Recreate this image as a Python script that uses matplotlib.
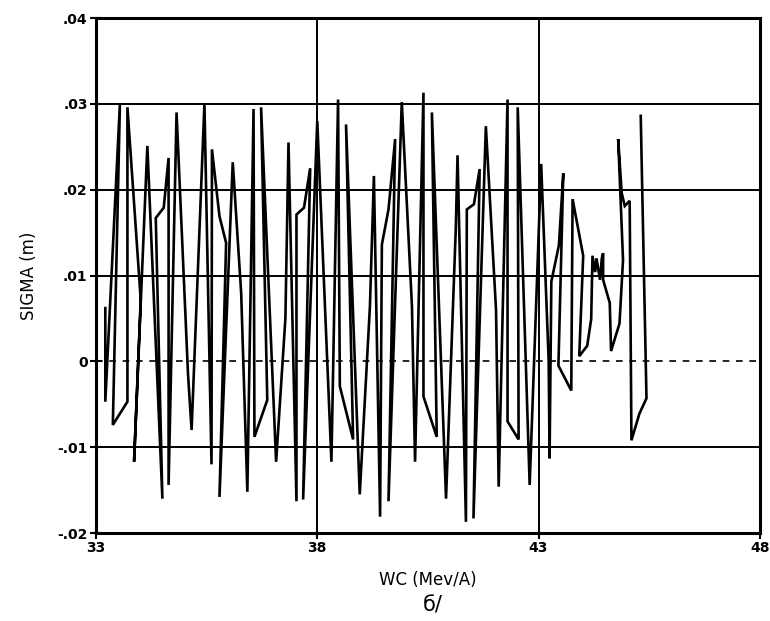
import matplotlib
matplotlib.use("Agg")
import matplotlib.pyplot as plt

# WC (Mev/A) and SIGMA (m), in drawing order
wc = [
    33.21, 33.21, 33.54, 33.38, 33.71, 33.71, 34.01, 33.86, 34.16, 34.50, 34.35, 34.53, 34.64, 34.64, 34.82,
    35.08, 35.16, 35.45, 35.61, 35.62, 35.79, 35.94, 35.79, 36.09, 36.28, 36.42, 36.56, 36.58, 36.87, 36.73,
    37.07, 37.28, 37.35, 37.53, 37.53, 37.70, 37.84, 37.68, 38.00, 38.32, 38.47, 38.51, 38.81, 38.65,
    38.96, 39.19, 39.28, 39.42, 39.46, 39.61, 39.76, 39.61, 39.91, 40.14, 40.21, 40.40, 40.40, 40.70, 40.59,
    40.91, 41.13, 41.17, 41.36, 41.38, 41.54, 41.67, 41.53, 41.81, 42.04, 42.10, 42.30, 42.30, 42.55, 42.53,
    42.80, 43.06, 43.23, 43.25, 43.29, 43.46, 43.56, 43.45, 43.74, 43.77, 44.01, 43.92, 44.10,
    44.19, 44.22, 44.28, 44.31, 44.39, 44.43, 44.46, 44.46, 44.61, 44.64, 44.83, 44.91, 44.80,
    44.88, 44.95, 45.06, 45.10, 45.28, 45.44, 45.31,
]
sigma = [
    0.0062, -0.0047, 0.0300, -0.0074, -0.0047, 0.0296, 0.0072, -0.0117, 0.0251, -0.0160, 0.0167, 0.0179, 0.0237, -0.0144, 0.0290,
    -0.0016, -0.0080, 0.0300, -0.0120, 0.0247, 0.0169, 0.0138, -0.0158, 0.0232, 0.0080, -0.0152, 0.0294, -0.0088, -0.0045, 0.0296,
    -0.0117, 0.0050, 0.0255, -0.0163, 0.0171, 0.0179, 0.0225, -0.0161, 0.0280, -0.0117, 0.0305, -0.0029, -0.0091, 0.0276,
    -0.0155, 0.0064, 0.0216, -0.0181, 0.0136, 0.0177, 0.0259, -0.0163, 0.0302, 0.0064, -0.0117, 0.0313, -0.0041, -0.0088, 0.0290,
    -0.0160, 0.0154, 0.0240, -0.0187, 0.0177, 0.0183, 0.0224, -0.0183, 0.0274, 0.0060, -0.0146, 0.0305, -0.0070, -0.0091, 0.0296,
    -0.0144, 0.0230, 0.0000, -0.0113, 0.0093, 0.0135, 0.0219, -0.0005, -0.0034, 0.0189, 0.0123, 0.0006, 0.0018,
    0.0049, 0.0123, 0.0104, 0.0120, 0.0095, 0.0120, 0.0126, 0.0095, 0.0068, 0.0012, 0.0044, 0.0118, 0.0259,
    0.0196, 0.0181, 0.0187, -0.0092, -0.0061, -0.0043, 0.0286,
]

xticks = [33, 38, 43, 48]
yticks = [-0.02, -0.01, 0, 0.01, 0.02, 0.03, 0.04]
ytick_labels = ["-.02", "-.01", "0", ".01", ".02", ".03", ".04"]

fig = plt.figure(figsize=(7.7, 6.21), dpi=100)
ax = fig.add_axes([0.1247, 0.1417, 0.8620, 0.8293])

# grid: solid lines, dashed zero line
for y in [-0.01, 0.01, 0.02, 0.03]:
    ax.axhline(y, color="black", lw=1.4, zorder=1)
for x in [38, 43]:
    ax.axvline(x, color="black", lw=1.4, zorder=1)
ax.axhline(0, color="black", lw=1.2, ls=(0, (4, 4)), zorder=1)

ax.plot(wc, sigma, color="black", lw=1.9, solid_joinstyle="miter", zorder=2)

ax.set_xlim(33, 48)
ax.set_ylim(-0.02, 0.04)
ax.set_xticks(xticks)
ax.set_xticklabels([str(t) for t in xticks], fontweight="bold", fontsize=10)
ax.set_yticks(yticks)
ax.set_yticklabels(ytick_labels, fontweight="bold", fontsize=10)
ax.tick_params(direction="inout", length=8, width=1.5, pad=2)

for s in ax.spines.values():
    s.set_linewidth(2.2)

ax.set_ylabel("SIGMA (m)", fontsize=12, labelpad=14)
ax.set_xlabel("WC (Mev/A)", fontsize=12, labelpad=11)
fig.text(0.562, 0.015, "б/", fontsize=15, ha="center")

plt.savefig("out.png", dpi=100)
